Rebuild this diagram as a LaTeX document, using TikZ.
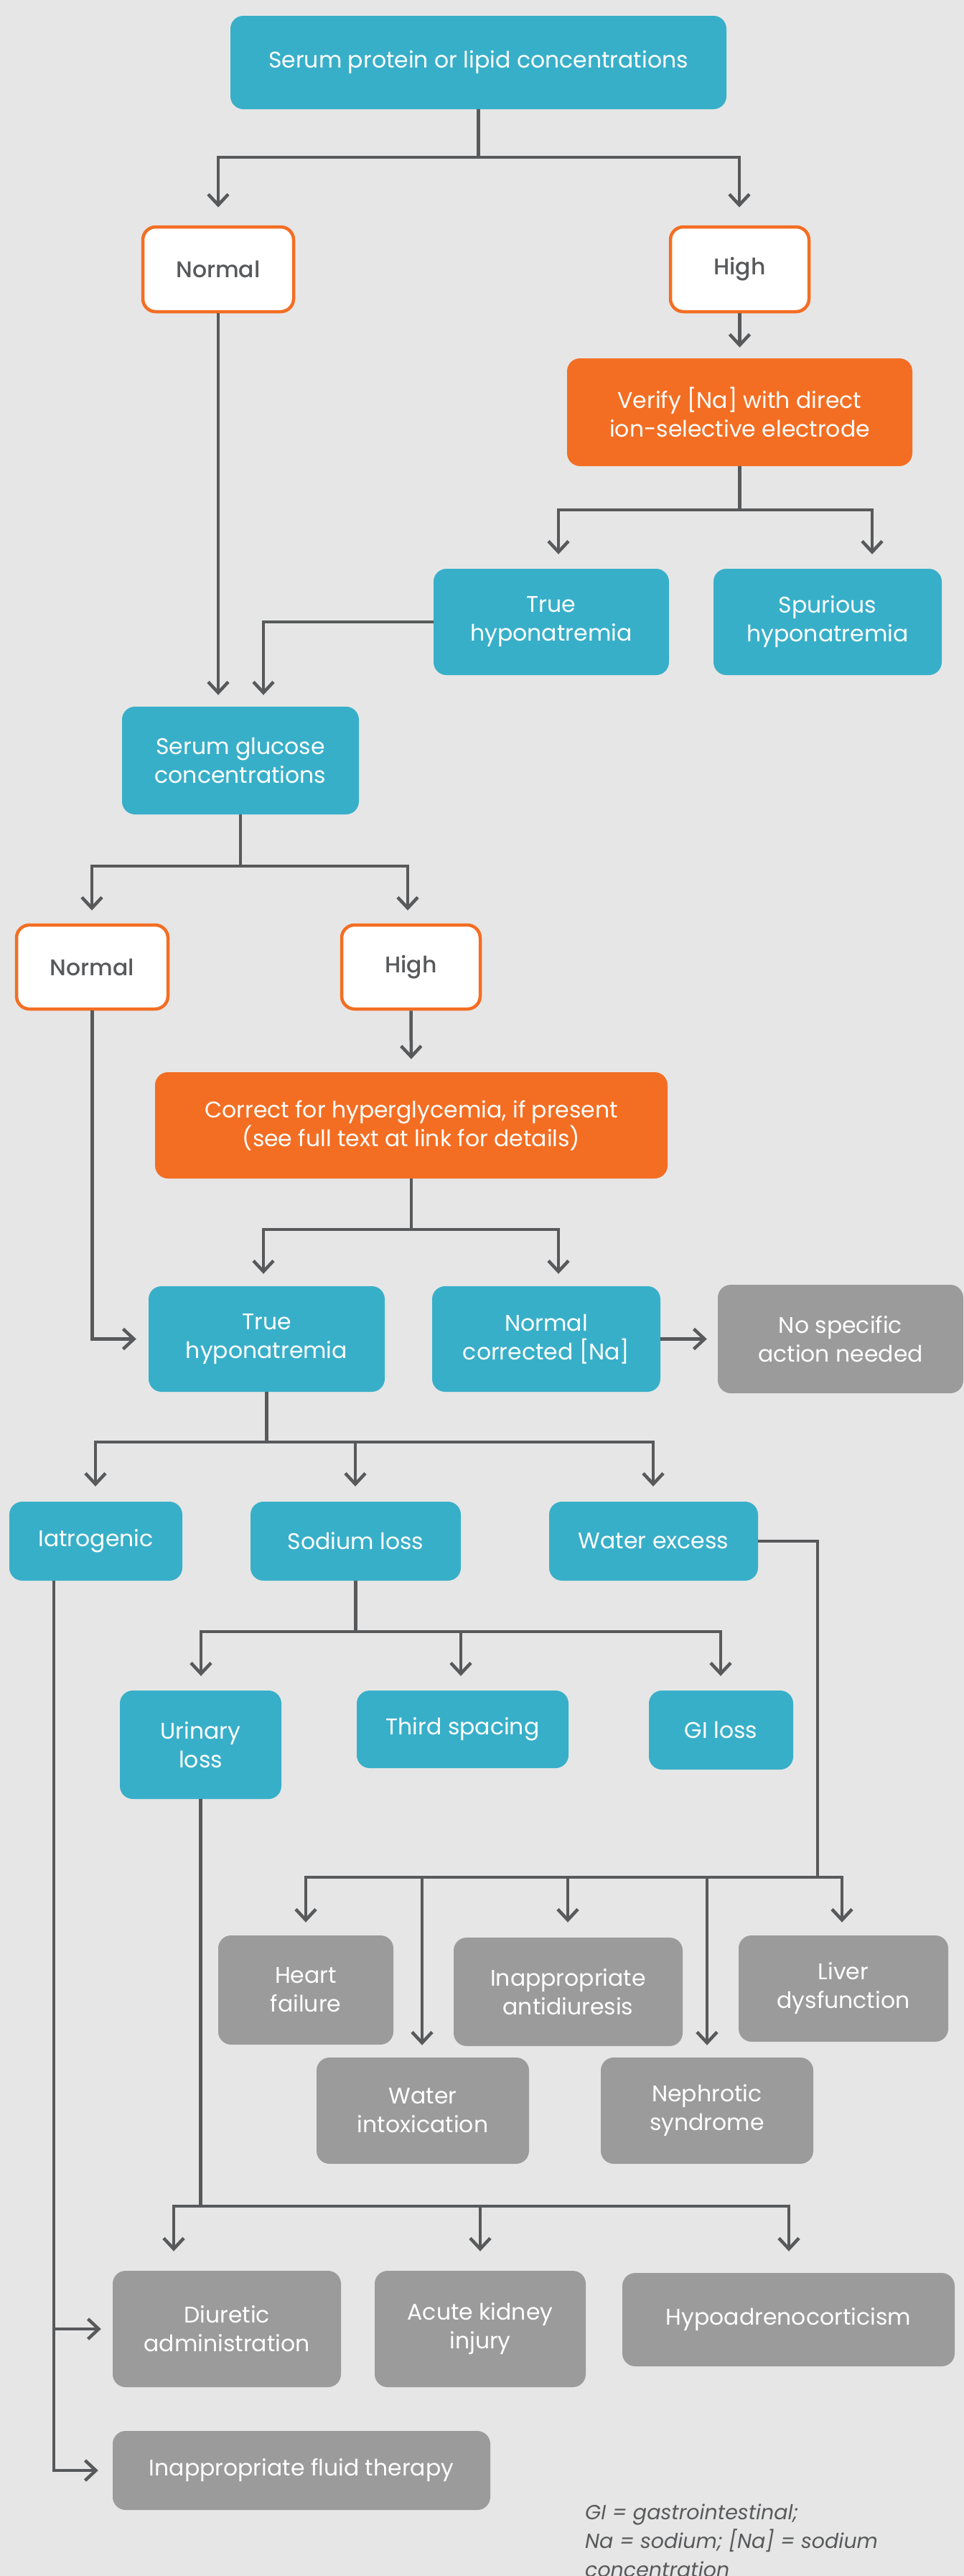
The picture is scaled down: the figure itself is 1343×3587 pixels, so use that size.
\documentclass[tikz,border=0pt]{standalone}
\usepackage{fontspec}
\setmainfont{Poppins}
\newfontfamily\medfont{Poppins Medium}
\usetikzlibrary{arrows.meta,calc}
\definecolor{cBg}{RGB}{230,230,230}
\definecolor{cTeal}{RGB}{56,175,201}
\definecolor{cOrange}{RGB}{243,110,35}
\definecolor{cGray}{RGB}{155,155,155}
\definecolor{cLine}{RGB}{88,89,91}
\begin{document}
\begin{tikzpicture}[x=1pt,y=-1pt,
  base/.style={rectangle, rounded corners=18pt, inner sep=0pt, align=center,
    font=\fontsize{31.5}{40}\selectfont, text=white},
  sz/.style 2 args={minimum width=#1pt, minimum height=#2pt},
  tealbox/.style={base, fill=cTeal},
  orgbox/.style={base, fill=cOrange},
  graybox/.style={base, fill=cGray},
  choice/.style={base, fill=white, draw=cOrange, line width=4.5pt, text=cLine,
    font=\fontsize{31.5}{40}\selectfont\medfont},
  ln/.style={draw=cLine, line width=4.5pt},
  arr/.style={ln, -{Straight Barb[length=15pt,width=28pt]}, shorten >=18pt},
  legend/.style={anchor=base west, inner sep=0pt, text=cLine,
    font=\fontsize{28.5}{40}\selectfont\itshape}
]
% canvas
\fill[cBg] (0,0) rectangle (1343,3587);
\useasboundingbox (0,0) rectangle (1343,3587);

% ---- boxes ----
\node[tealbox, sz={691}{130}] (top) at (666.5,87) {Serum protein or lipid concentrations};
\node[choice, sz={210}{118}] (n1) at (304,375) {Normal};
\node[choice, sz={193}{118}] (h1) at (1030.5,375) {High};
\node[orgbox, sz={481}{150}] (verify) at (1030.5,574) {Verify [Na] with direct\\ion-selective electrode};
\node[tealbox, sz={328}{148}] (true1) at (768,866) {True\\hyponatremia};
\node[tealbox, sz={318}{148}] (spur) at (1153,866) {Spurious\\hyponatremia};
\node[tealbox, sz={330}{150}] (glucose) at (335,1059) {Serum glucose\\concentrations};
\node[choice, sz={211}{117}] (n2) at (128.5,1346.5) {Normal};
\node[choice, sz={193}{117}] (h2) at (572.5,1346.5) {High};
\node[orgbox, sz={714}{148}] (correct) at (573,1567) {Correct for hyperglycemia, if present\\(see full text at link for details)};
\node[tealbox, sz={329}{147}] (true2) at (371.5,1864.5) {True\\hyponatremia};
\node[tealbox, sz={318}{147}] (normcorr) at (761,1864.5) {Normal\\corrected [Na]};
\node[graybox, sz={342}{151}] (nospec) at (1171,1864.5) {No specific\\action needed};
\node[tealbox, sz={241}{110}] (iatro) at (133.5,2146) {Iatrogenic};
\node[tealbox, sz={293}{110}] (sodium) at (495.5,2146) {Sodium loss};
\node[tealbox, sz={291}{110}] (water) at (910.5,2146) {Water excess};
\node[tealbox, sz={225}{151}] (urinary) at (279.5,2429.5) {Urinary\\loss};
\node[tealbox, sz={295}{108}] (third) at (644.5,2408) {Third spacing};
\node[tealbox, sz={201}{110}] (gi) at (1004.5,2409) {GI loss};
\node[graybox, sz={244}{152}] (heart) at (426,2771) {Heart\\failure};
\node[graybox, sz={319}{151}] (inapp) at (791.5,2773.5) {Inappropriate\\antidiuresis};
\node[graybox, sz={292}{148}] (liver) at (1175,2769) {Liver\\dysfunction};
\node[graybox, sz={296}{148}] (wint) at (589,2939) {Water\\intoxication};
\node[graybox, sz={296}{148}] (neph) at (985,2939) {Nephrotic\\syndrome};
\node[graybox, sz={318}{162}] (diur) at (316,3243) {Diuretic\\administration};
\node[graybox, sz={294}{162}] (aki) at (669,3243) {Acute kidney\\injury};
\node[graybox, sz={463}{130}] (hypo) at (1098.5,3230) {Hypoadrenocorticism};
\node[graybox, sz={526}{110}] (ift) at (420,3440) {Inappropriate fluid therapy};

% ---- key ----
\node[legend] (leg1) at (815,3508) {GI = gastrointestinal;};
\node[legend] (leg2) at (815,3548) {Na = sodium; [Na] = sodium};
\node[legend] (leg3) at (815,3588) {concentration};

% ---- connectors ----
% protein / lipid split
\draw[arr, shorten >=25pt] (top.south) |- (304,219) -- (304,0 |- n1.north);
\draw[arr, shorten >=25pt] (top.south) |- (1030,219) -- (1030,0 |- h1.north);
\draw[arr, shorten >=15pt] (h1.south) -- (verify.north);
% direct electrode split
\draw[arr, shorten >=20pt] (verify.south) |- (778,710) -- (778,0 |- true1.north);
\draw[arr, shorten >=20pt] (verify.south) |- (1215,710) -- (1215,0 |- spur.north);
% into glucose
\draw[arr, shorten >=16pt] (n1.south) -- (n1.south |- glucose.north);
\draw[arr, shorten >=16pt] (true1.west) -| (367,0 |- glucose.north);
% glucose split
\draw[arr] (glucose.south) |- (128,1206) -- (128,0 |- n2.north);
\draw[arr] (glucose.south) |- (568,1206) -- (568,0 |- h2.north);
\draw[arr] (h2.south) -- (correct.north);
% hyperglycemia correction split
\draw[arr, shorten >=17pt] (correct.south) |- (367,1712) -- (367,0 |- true2.north);
\draw[arr, shorten >=17pt] (correct.south) |- (778,1712) -- (778,0 |- normcorr.north);
\draw[arr, shorten >=17pt] (n2.south) |- (true2.west);
\draw[arr, shorten >=15pt] (normcorr.east) -- (nospec.west);
% causes of true hyponatremia
\draw[arr, shorten >=21pt] (true2.south) |- (133,2008) -- (133,0 |- iatro.north);
\draw[arr, shorten >=21pt] (true2.south) |- (495,2008) -- (495,0 |- sodium.north);
\draw[arr, shorten >=21pt] (true2.south) |- (910,2008) -- (910,0 |- water.north);
% sodium loss
\draw[arr, shorten >=20pt] (sodium.south) |- (280,2272) -- (280,0 |- urinary.north);
\draw[arr, shorten >=20pt] (sodium.south) |- (642,2272) -- (642,0 |- third.north);
\draw[arr, shorten >=20pt] (sodium.south) |- (1004,2272) -- (1004,0 |- gi.north);
% water excess
\draw[arr] (water.east) -| (1139,2614) -| (426,0 |- heart.north);
\draw[arr, shorten >=17pt] (water.east) -| (1139,2614) -| (588,0 |- wint.north);
\draw[arr, shorten >=21pt] (water.east) -| (1139,2614) -| (791,0 |- inapp.north);
\draw[arr, shorten >=17pt] (water.east) -| (1139,2614) -| (985,0 |- neph.north);
\draw[arr] (water.east) -| (1139,2614) -| (1173,0 |- liver.north);
% urinary loss
\draw[arr, shorten >=27pt] (urinary.south) |- (242,3072) -- (242,0 |- diur.north);
\draw[arr, shorten >=27pt] (urinary.south) |- (669,3072) -- (669,0 |- aki.north);
\draw[arr, shorten >=30pt] (urinary.south) |- (1099,3072) -- (1099,0 |- hypo.north);
% iatrogenic
\draw[arr, shorten >=16pt] (75,0 |- iatro.south) |- (diur.west);
\draw[arr, shorten >=20pt] (75,0 |- iatro.south) |- (ift.west);
\end{tikzpicture}
\end{document}
